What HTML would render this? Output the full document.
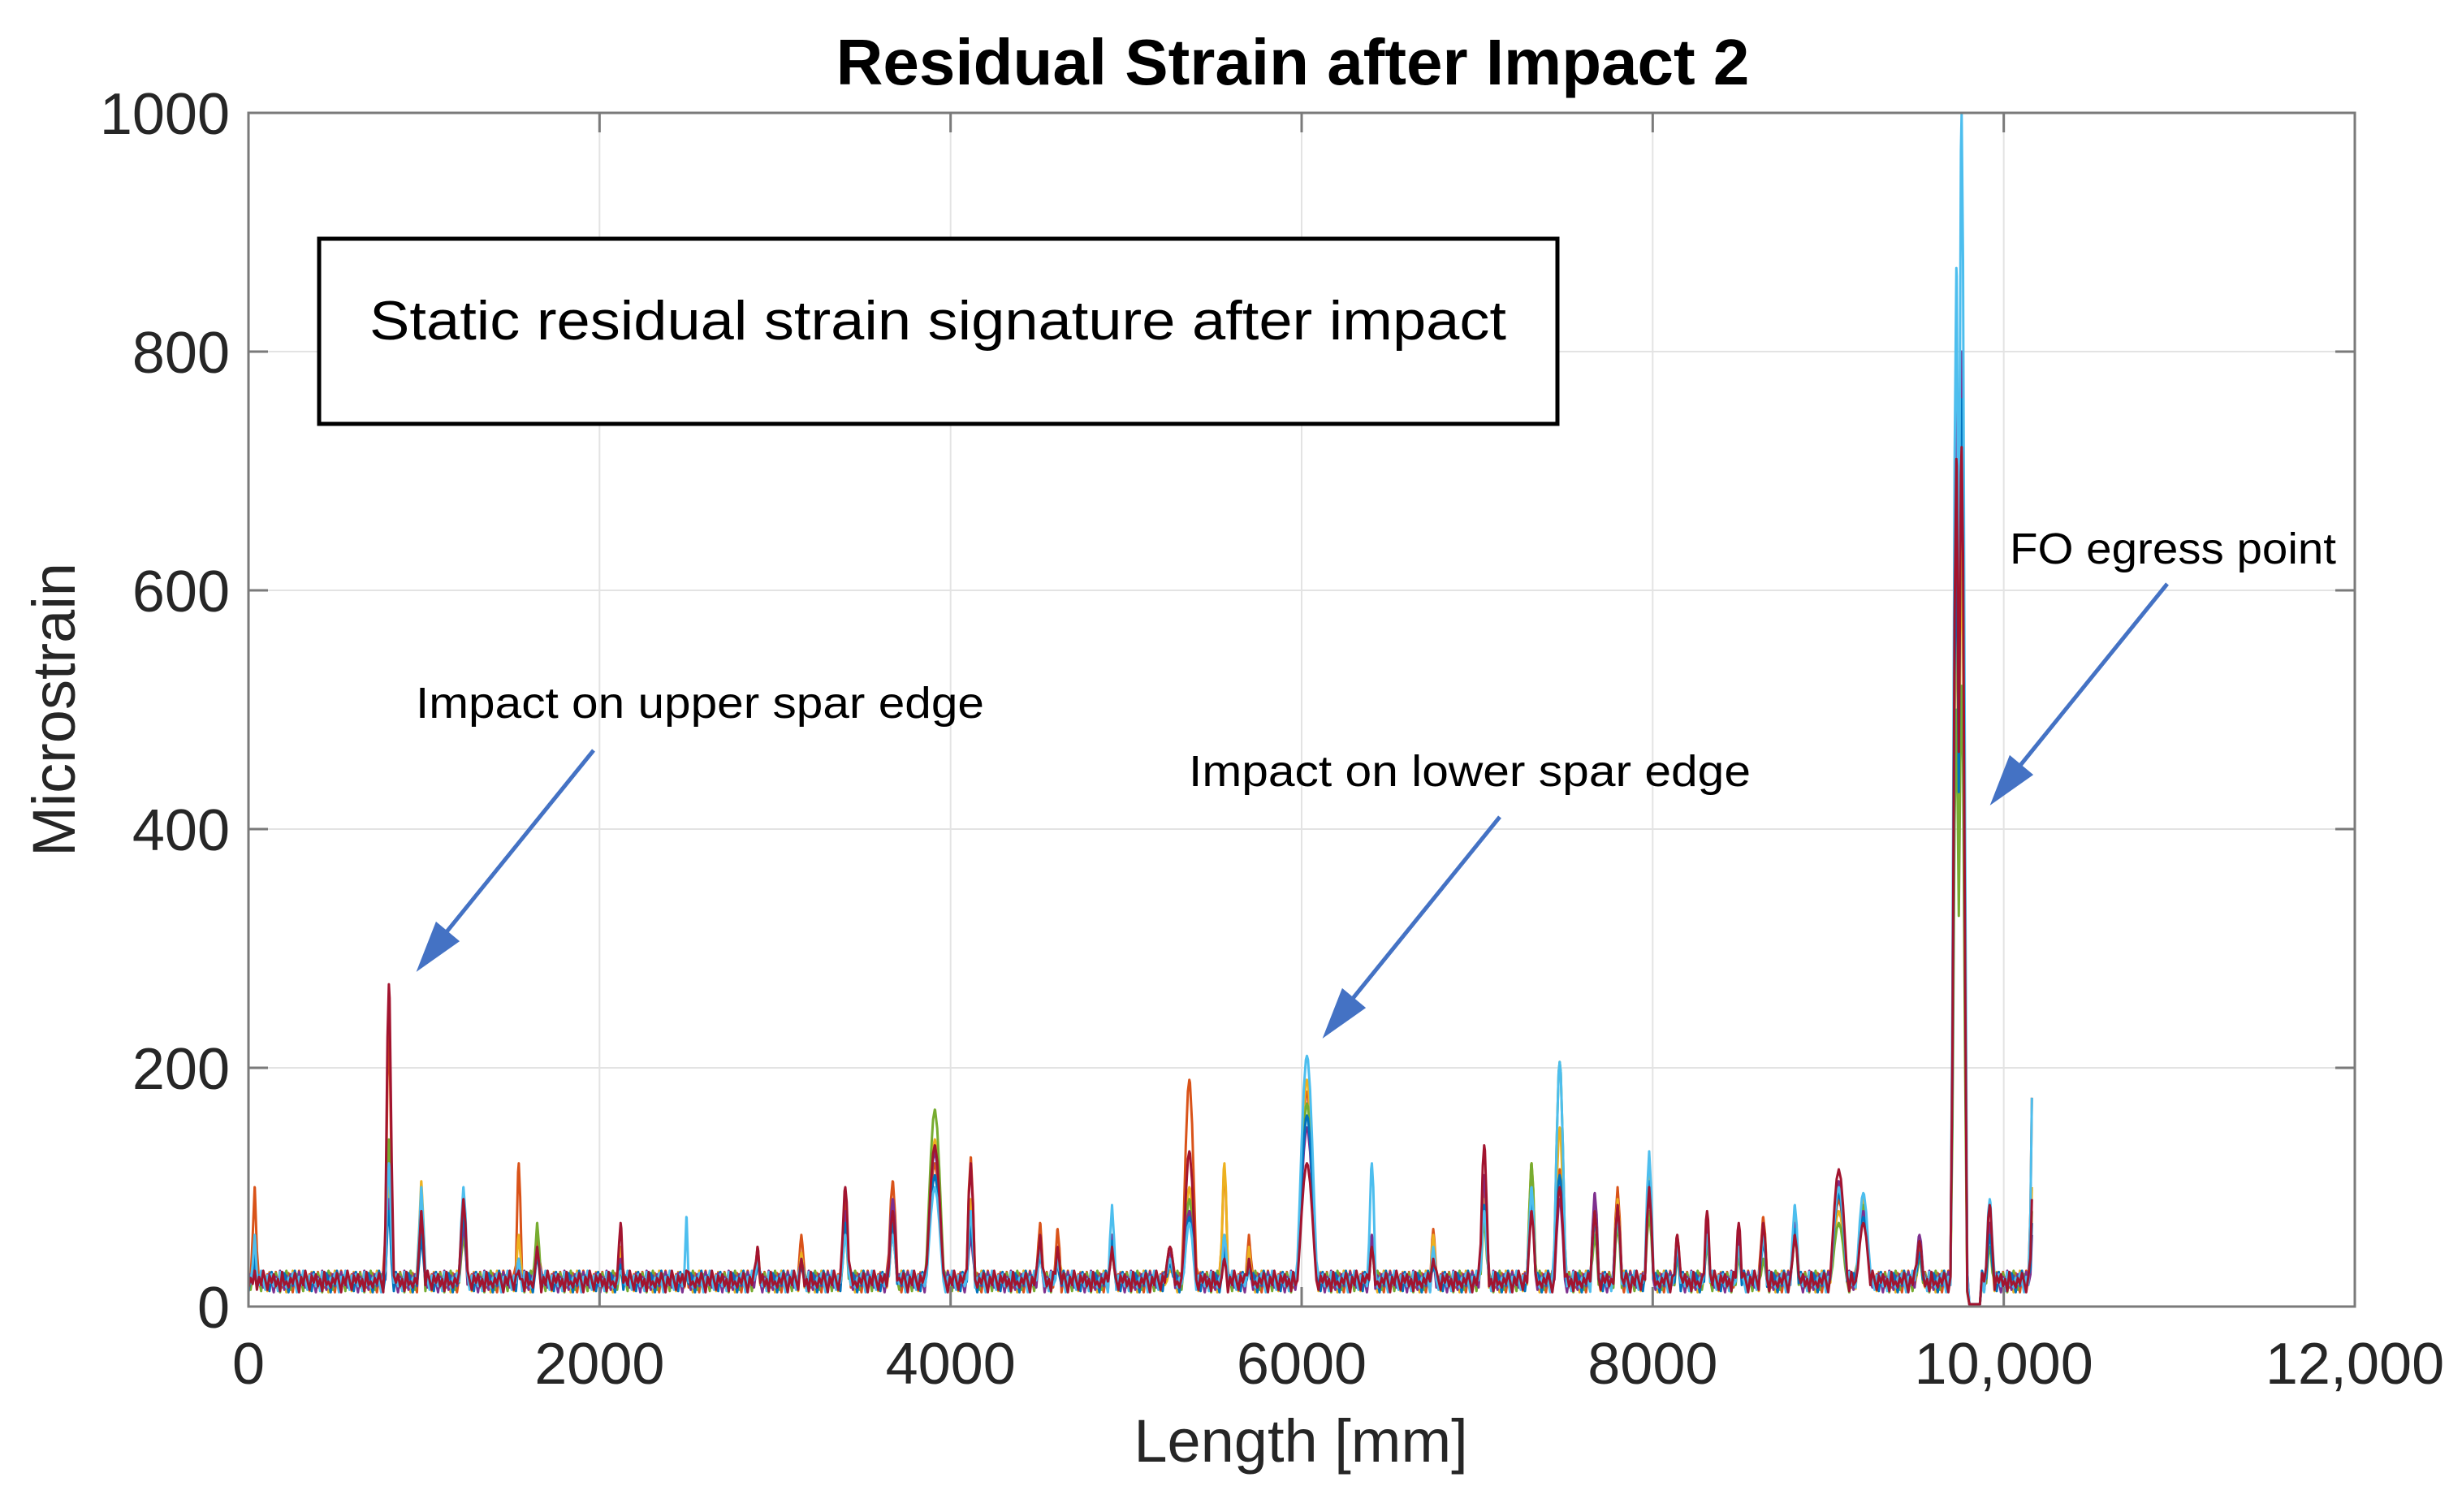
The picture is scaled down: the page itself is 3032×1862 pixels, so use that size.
<!DOCTYPE html>
<html><head><meta charset="utf-8"><style>
html,body{margin:0;padding:0;background:#fff}
svg{display:block}
</style></head><body>
<svg id="chart" width="3032" height="1862" viewBox="0 0 3032 1862" xmlns="http://www.w3.org/2000/svg">
<defs><clipPath id="pc"><rect x="306" y="139" width="2594" height="1470"/></clipPath></defs>
<text x="1592" y="104" text-anchor="middle" font-family="Liberation Sans, sans-serif" font-weight="bold" font-size="80" fill="#000">Residual Strain after Impact 2</text>
<g id="grid"></g>
<g id="series" clip-path="url(#pc)"></g>
<rect x="306" y="139" width="2594" height="1470" fill="none" stroke="#7a7a7a" stroke-width="3"/>
<g id="ticks"></g>
<text x="1602" y="1800" text-anchor="middle" font-family="Liberation Sans, sans-serif" font-size="74" fill="#262626">Length [mm]</text>
<text transform="translate(92,874) rotate(-90)" text-anchor="middle" font-family="Liberation Sans, sans-serif" font-size="74" fill="#262626">Microstrain</text>
<rect x="393" y="294" width="1525" height="228" fill="#fff" stroke="#000" stroke-width="5"/>
<text x="455" y="418" textLength="1400" lengthAdjust="spacingAndGlyphs" font-family="Liberation Sans, sans-serif" font-size="68" fill="#000">Static residual strain signature after impact</text>
<text x="512" y="884" textLength="700" lengthAdjust="spacingAndGlyphs" font-family="Liberation Sans, sans-serif" font-size="54" fill="#000">Impact on upper spar edge</text>
<text x="1464" y="968" textLength="692" lengthAdjust="spacingAndGlyphs" font-family="Liberation Sans, sans-serif" font-size="54" fill="#000">Impact on lower spar edge</text>
<text x="2475" y="694" textLength="402" lengthAdjust="spacingAndGlyphs" font-family="Liberation Sans, sans-serif" font-size="54" fill="#000">FO egress point</text>
<g stroke="#4472C4" stroke-width="5" fill="#4472C4">
<line x1="731" y1="924" x2="548" y2="1150"/>
<polygon points="518,1190 538,1139 562,1159"/>
<line x1="1847" y1="1006" x2="1664" y2="1232"/>
<polygon points="1634,1272 1654,1221 1678,1241"/>
<line x1="2669" y1="719" x2="2486" y2="945"/>
<polygon points="2456,985 2476,934 2500,954"/>
</g>
</svg>
<script>
const xTicks=[0,2000,4000,6000,8000,10000,12000];
const xTickLabels=["0","2000","4000","6000","8000","10,000","12,000"];
const yTicks=[0,200,400,600,800,1000];
const yTickLabels=["0","200","400","600","800","1000"];
const peakX=[35,800,985,1225,1540,1645,2120,2495,2900,3150,3400,3670,3910,4115,4510,4610,4920,5250,5360,5560,5700,6030,6400,6750,7040,7310,7470,7670,7800,7980,8140,8310,8490,8630,8810,9060,9200,9520,9730,9760,9920,10160];
const peakW=[25,30,30,35,25,30,25,20,25,25,35,40,70,35,30,30,30,50,55,30,30,75,30,25,35,35,45,35,35,35,30,30,30,35,35,70,60,40,35,35,35,15];
const sLightBlue=[60,120,100,100,40,50,30,75,40,40,60,60,100,80,50,40,85,40,70,60,40,210,120,50,80,100,205,80,80,130,50,60,50,60,85,100,95,55,870,1000,90,175];
const sOrange=[100,230,90,80,120,60,40,30,50,60,90,105,120,125,70,65,60,50,190,115,60,180,60,65,100,110,115,90,100,100,60,70,60,75,70,90,80,50,700,680,70,175];
const sYellow=[50,100,105,70,60,50,50,30,40,45,70,70,140,90,60,50,60,30,100,120,50,190,50,60,90,120,150,70,90,110,50,55,45,70,80,80,90,40,600,640,60,100];
const sGreen=[40,140,80,60,40,70,30,30,40,40,60,60,165,80,50,40,50,40,90,60,40,170,50,40,70,120,205,60,70,80,40,50,40,40,60,70,85,40,500,520,50,80];
const sPurple=[40,90,70,70,40,50,40,30,40,40,80,90,130,60,50,40,60,45,80,50,40,150,60,40,110,90,90,95,85,100,50,70,60,60,70,105,80,60,780,800,70,60];
const sBlue=[45,80,60,80,35,45,35,25,35,35,70,70,110,70,45,35,55,35,75,45,35,160,50,35,85,95,110,75,80,105,45,60,50,55,65,95,75,45,650,760,60,70];
const sRed=[30,270,80,90,30,50,70,30,50,40,100,80,135,120,60,50,50,50,130,40,40,120,50,40,135,80,100,80,85,100,60,80,70,70,60,115,70,55,710,720,85,90];
const noise=[0,8,3,12,5,-4,9,2,14,6,-2,10,4,11,1,7,-3,13,2,5];
const baseLevel=16, xEnd=10160;

const X0=306,X1=2900,Y0=1609,Y1=139;
const xs=v=>X0+v/12000*(X1-X0);
const ys=v=>Y0-v/1000*(Y0-Y1);
const NS="http://www.w3.org/2000/svg";
const grid=document.getElementById('grid'),ticks=document.getElementById('ticks'),ser=document.getElementById('series');
function mk(tag,at,parent){const e=document.createElementNS(NS,tag);for(const k in at)e.setAttribute(k,at[k]);parent.appendChild(e);return e;}

xTicks.forEach((t,i)=>{
  const x=xs(t);
  if(i>0&&i<xTicks.length-1){const g=mk('line',{x1:x,x2:x,y1:Y1,y2:Y0,stroke:'#e3e3e3','stroke-width':2},grid);
  
  }
  const tk=mk('line',{x1:x,x2:x,y1:Y0,y2:Y0-24,stroke:'#7a7a7a','stroke-width':3},ticks);
  
  
  const tk2=mk('line',{x1:x,x2:x,y1:Y1,y2:Y1+24,stroke:'#7a7a7a','stroke-width':3},ticks);
  
  
  const lb=mk('text',{x:x,y:1704,'text-anchor':'middle','font-family':'Liberation Sans, sans-serif','font-size':72,fill:'#262626'},ticks);
  lb.textContent=xTickLabels[i];
  
  
});
yTicks.forEach((t,i)=>{
  const y=ys(t);
  if(i>0&&i<yTicks.length-1){const g=mk('line',{x1:X0,x2:X1,y1:y,y2:y,stroke:'#e3e3e3','stroke-width':2},grid);
  
  }
  const tk=mk('line',{x1:X0,x2:X0+24,y1:y,y2:y,stroke:'#7a7a7a','stroke-width':3},ticks);
  
  
  const tk2=mk('line',{x1:X1,x2:X1-24,y1:y,y2:y,stroke:'#7a7a7a','stroke-width':3},ticks);
  
  
  const lb=mk('text',{x:283,y:y+26,'text-anchor':'end','font-family':'Liberation Sans, sans-serif','font-size':72,fill:'#262626'},ticks);
  lb.textContent=yTickLabels[i];
  
  
});

const seriesList=[
  {vals:sOrange,color:'#D95319',off:3,name:'series-orange'},
  {vals:sYellow,color:'#EDB120',off:6,name:'series-yellow'},
  {vals:sGreen,color:'#77AC30',off:9,name:'series-green'},
  {vals:sPurple,color:'#7E2F8E',off:12,name:'series-purple'},
  {vals:sBlue,color:'#0072BD',off:5,name:'series-blue'},
  {vals:sLightBlue,color:'#4DBEEE',off:1,name:'series-lightblue'},
  {vals:sRed,color:'#A2142F',off:0,name:'series-red'}
];
const samples=[];
for(let m=0;m<=xEnd;m+=12)samples.push(m);
peakX.forEach(p=>samples.push(p));
samples.sort((a,b)=>a-b);
seriesList.forEach(s=>{
  let d='';
  samples.forEach((m,k)=>{
    let v=baseLevel+noise[(k+s.off)%noise.length];
    for(let p=0;p<peakX.length;p++){
      const dx=Math.abs(m-peakX[p]);
      if(dx<peakW[p]){const c=Math.cos(dx/peakW[p]*Math.PI/2);v=Math.max(v,s.vals[p]*c*c);}
    }
    if(m>9800&&m<9870)v=2;
    v=Math.max(0,v);
    d+=(d?'L':'M')+xs(m).toFixed(1)+','+ys(v).toFixed(1);
  });
  const pth=mk('path',{d:d,fill:'none',stroke:s.color,'stroke-width':3,'stroke-linejoin':'round'},ser);
  
  
});
</script>
</body></html>
